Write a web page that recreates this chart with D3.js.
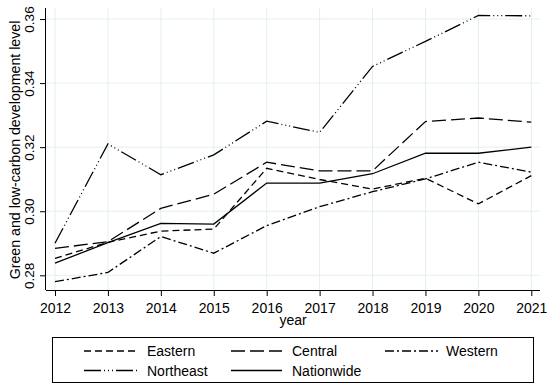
<!DOCTYPE html>
<html><head><meta charset="utf-8">
<script src="https://cdn.jsdelivr.net/npm/d3@7"></script>
<style>body{margin:0;background:#fff}svg{display:block}text{font-family:"Liberation Sans",Arial,sans-serif;fill:#000}</style>
</head><body><svg id="c" width="550" height="390"></svg>
<script>
const years = [2012,2013,2014,2015,2016,2017,2018,2019,2020,2021];
const eastern = [0.2853,0.2903,0.2938,0.2944,0.3134,0.3099,0.3069,0.3103,0.3023,0.3111];
const central = [0.2884,0.2905,0.3009,0.3053,0.3153,0.3126,0.3126,0.3280,0.3291,0.3278];
const western = [0.2780,0.2809,0.2921,0.2869,0.2955,0.3014,0.3061,0.3101,0.3153,0.3122];
const northeast = [0.2900,0.3210,0.3114,0.3176,0.3281,0.3246,0.3452,0.3530,0.3611,0.3610];
const nationwide = [0.2838,0.2902,0.2962,0.2960,0.3088,0.3088,0.3117,0.3181,0.3181,0.3200];
const yTicks = [0.28,0.30,0.32,0.34,0.36];
const seriesNames = ["Eastern","Central","Western","Northeast","Nationwide"];
const seriesData = [eastern,central,western,northeast,nationwide];
const dashes = ["7,4","14,5","9,3,2,3","17,3,1,3,1,3,1,3",null];

const svg = d3.select("#c");
const x = d3.scaleLinear().domain([2012,2021]).range([55,531.3]);
const y = d3.scaleLinear().domain([0.28,0.36]).range([275.3,19]);
const L=46,R=540,T=8,B=290;
const FS="14px";

// gridlines
const g = svg.append("g");
g.selectAll("line.gy").data(yTicks).enter().append("line")
  .attr("x1",L).attr("x2",R).attr("y1",d=>y(d)).attr("y2",d=>y(d))
  .attr("stroke","#e3eef2").attr("stroke-width",1);
g.selectAll("line.gx").data(years).enter().append("line")
  .attr("y1",T).attr("y2",B).attr("x1",d=>x(d)).attr("x2",d=>x(d))
  .attr("stroke","#e3eef2").attr("stroke-width",1);

// axes
const xa = svg.append("g").attr("transform",`translate(0,${B})`)
  .call(d3.axisBottom(x).tickValues(years).tickFormat(d3.format("d")).tickSize(6).tickSizeOuter(0));
xa.select(".domain").attr("d",`M${L},0.5H${R}`).attr("stroke","#000");
xa.selectAll("text").attr("font-size",FS).attr("y",23).attr("dy","0");
const ya = svg.append("g").attr("transform",`translate(${L},0)`)
  .call(d3.axisLeft(y).tickValues(yTicks).tickFormat(d3.format(".2f")).tickSize(6).tickSizeOuter(0));
ya.select(".domain").attr("d",`M-0.5,${T}V${B}`).attr("stroke","#000");
ya.selectAll(".tick text").attr("font-size","13.5px")
  .attr("text-anchor","middle").attr("transform","rotate(-90)")
  .attr("x",0).attr("y",-12).attr("dy","0");

svg.append("text").attr("x",293).attr("y",325).attr("text-anchor","middle")
  .attr("font-size",FS).text("year");
svg.append("text").attr("transform",`translate(20,150) rotate(-90)`)
  .attr("text-anchor","middle").attr("font-size","14.2px").text("Green and low-carbon development level");

// lines
const line = d3.line().x((d,i)=>x(years[i])).y(d=>y(d));
seriesData.forEach((s,k)=>{
  svg.append("path").datum(s).attr("d",line).attr("fill","none")
    .attr("stroke","#000").attr("stroke-width",1.3)
    .attr("stroke-dasharray",dashes[k]);
});

// legend
svg.append("rect").attr("x",52.5).attr("y",337.5).attr("width",481).attr("height",45)
  .attr("fill","#fff").attr("stroke","#000").attr("stroke-width",1);
const cols=[[84,138,147],[231,282,292],[385,438,446]];
const rows=[351,370.5];
seriesNames.forEach((n,k)=>{
  const c=cols[k%3], r=rows[Math.floor(k/3)];
  svg.append("line").attr("x1",c[0]).attr("x2",c[1]).attr("y1",r).attr("y2",r)
    .attr("stroke","#000").attr("stroke-width",1.3).attr("stroke-dasharray",dashes[k]);
  svg.append("text").attr("x",c[2]).attr("y",r+5).attr("font-size",FS).text(n);
});
</script></body></html>
